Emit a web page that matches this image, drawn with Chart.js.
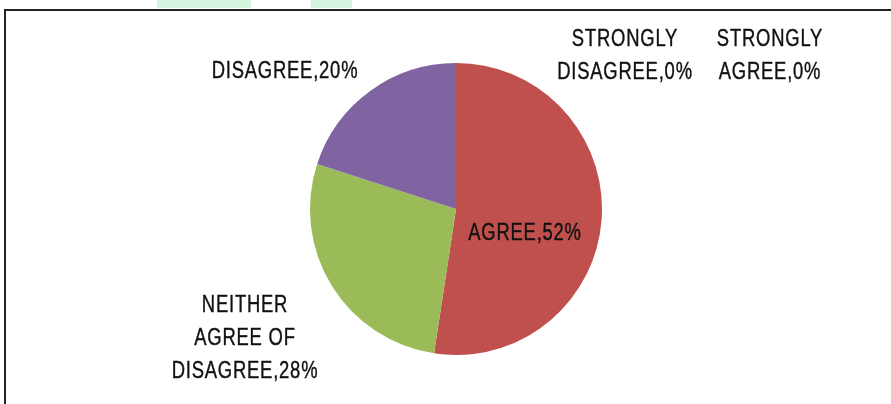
<!DOCTYPE html>
<html>
<head>
<meta charset="utf-8">
<script src="https://cdn.jsdelivr.net/npm/chart.js@4/dist/chart.umd.min.js"></script>
<style>
  html, body { margin: 0; padding: 0; background: #fff; }
  #wrap { position: relative; width: 891px; height: 404px; overflow: hidden; }
  #frame { position: absolute; left: 4px; top: 9px; width: 900px; height: 420px;
           border-left: 2px solid #222; border-top: 2px solid #222; }
  .mark { position: absolute; top: 0; height: 8px; background: #d5f5e1; }
  canvas { position: absolute; left: 0; top: 0; }
</style>
</head>
<body>
<div id="wrap">
  <div class="mark" style="left:157px;width:94px"></div>
  <div class="mark" style="left:311px;width:41px"></div>
  <div id="frame"></div>
  <canvas id="chart_pie" width="891" height="404"></canvas>
</div>
<script>
// data
var categories = [
    ["AGREE"],
    ["NEITHER", "AGREE OF", "DISAGREE"],
    ["DISAGREE"],
    ["STRONGLY", "DISAGREE"],
    ["STRONGLY", "AGREE"]
];
var shares = [52.4, 27.6, 20, 0, 0];
var sliceColors = ["#C0504D", "#9BBB59", "#8064A2", "#4F81BD", "#F79646"];

// label anchors, relative to pie centre (px)
var labelOffsets = [[69, 25], [-211, 97], [-171, -137], [169, -169], [314, -169]];

var pieLabels = {
    id: 'pieLabels',
    afterDatasetsDraw: function(chart) {
        var ctx = chart.ctx;
        var arcs = chart.getDatasetMeta(0).data;
        ctx.save();
        ctx.font = '23px "Liberation Sans", Arial, sans-serif';
        ctx.fillStyle = '#111';
        ctx.strokeStyle = '#111';
        ctx.lineWidth = 0.4;
        ctx.textAlign = 'center';
        ctx.textBaseline = 'middle';
        ctx.letterSpacing = '1px';
        arcs.forEach(function(arc, i) {
            var lines = categories[i].slice();
            lines[lines.length - 1] = lines[lines.length - 1] + ',' + Math.round(shares[i]) + '%';
            var x = arc.x + labelOffsets[i][0];
            var y = arc.y + labelOffsets[i][1];
            lines.forEach(function(t, j) {
                ctx.save();
                ctx.translate(x, y + j * 33);
                ctx.scale(0.8, 1);
                ctx.fillText(t, 0, 0);
                ctx.strokeText(t, 0, 0);
                ctx.restore();
            });
        });
        ctx.restore();
    }
};

var objChart = new Chart(document.getElementById('chart_pie'), {
    type: 'pie',
    data: {
        labels: categories.map(function(c) { return c.join(' '); }),
        datasets: [{
            data: shares,
            backgroundColor: sliceColors,
            borderWidth: 0
        }]
    },
    options: {
        responsive: false,
        animation: false,
        layout: { padding: { left: 310, right: 289, top: 63, bottom: 49 } },
        plugins: { legend: { display: false }, tooltip: { enabled: false } }
    },
    plugins: [pieLabels]
});
</script>
</body>
</html>
